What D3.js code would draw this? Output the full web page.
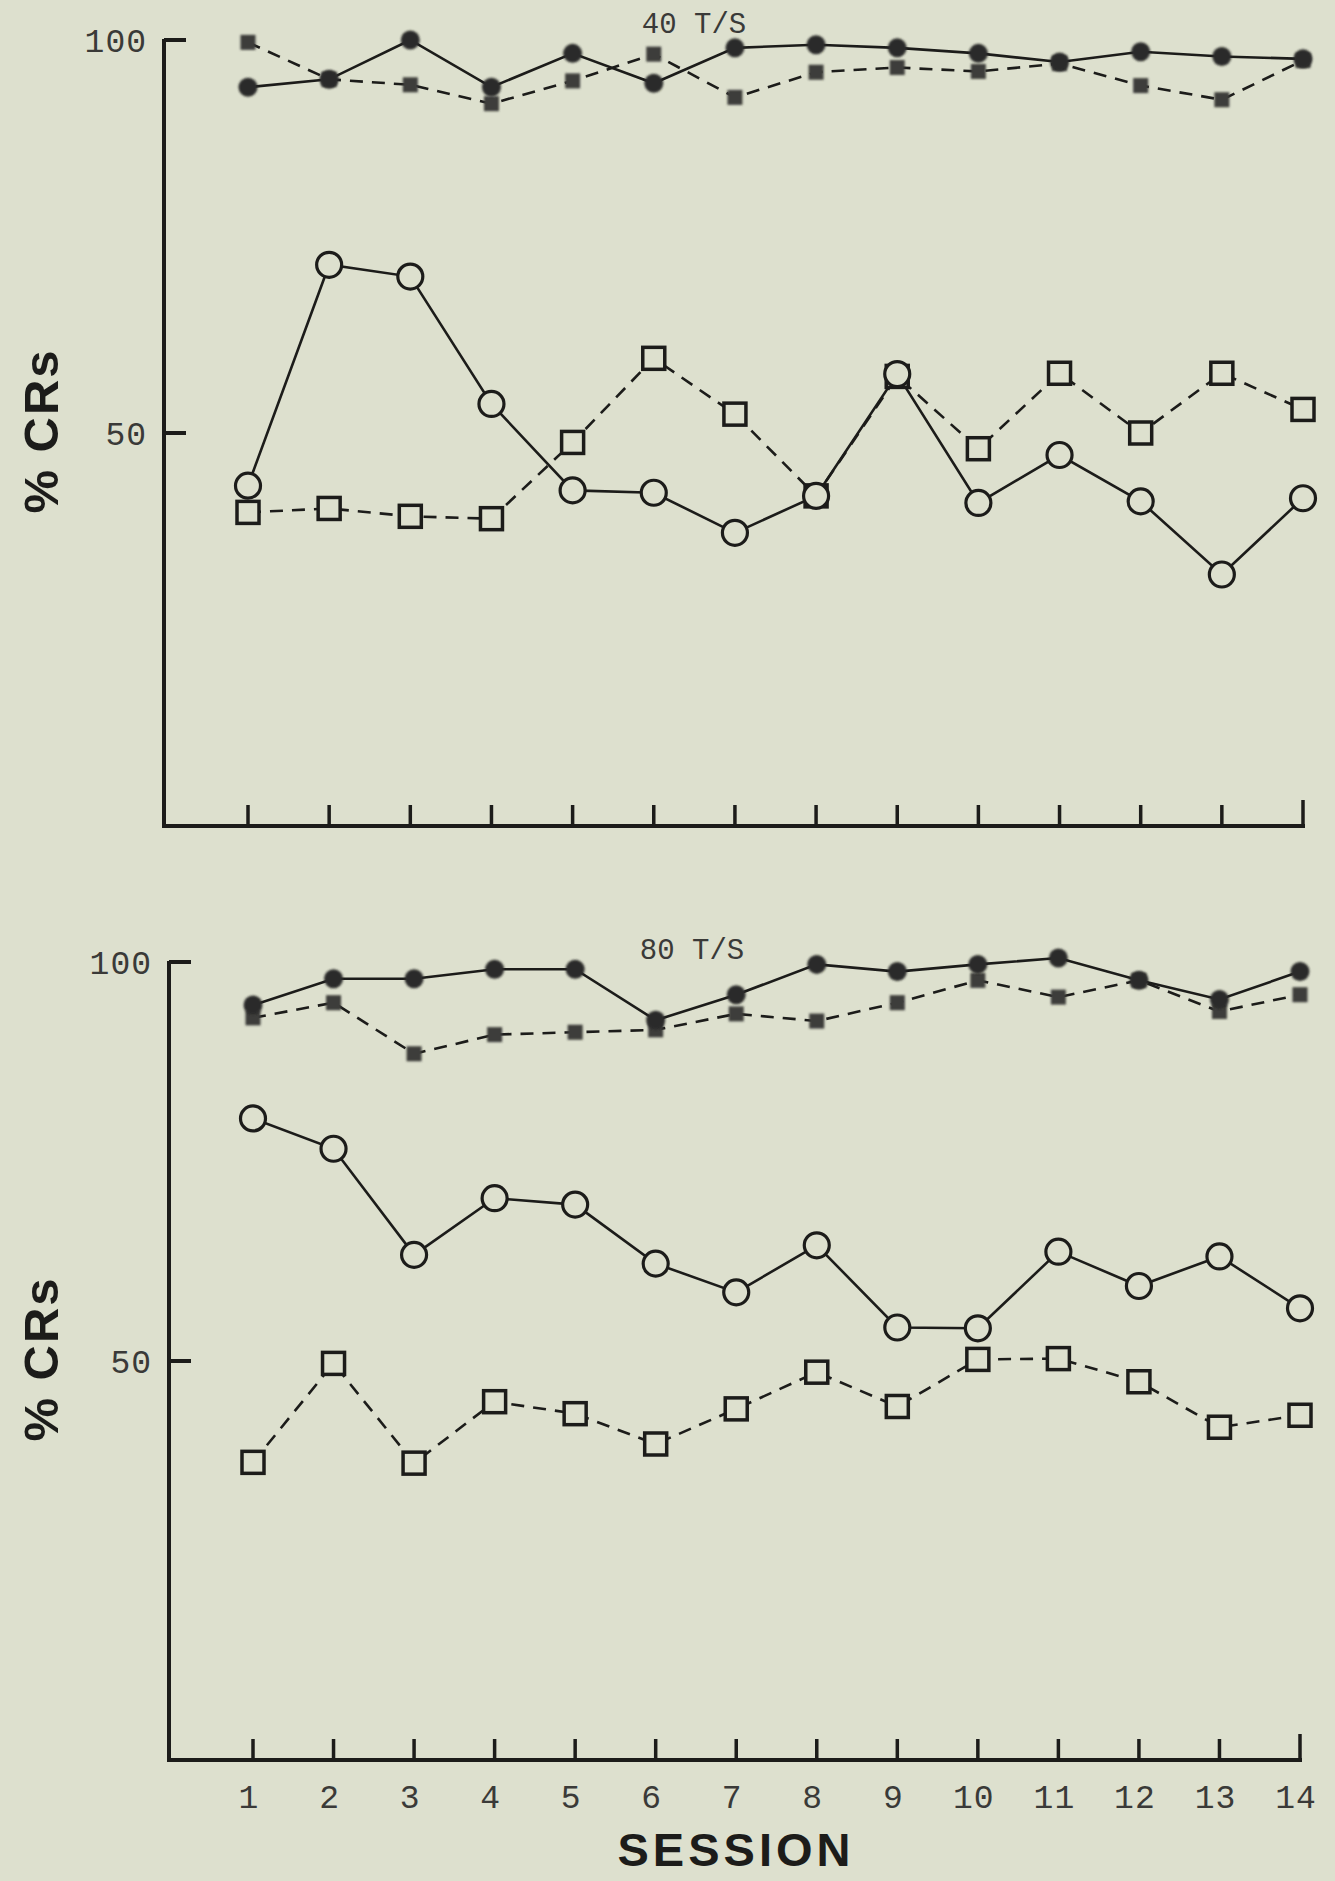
<!DOCTYPE html>
<html><head><meta charset="utf-8">
<script src="https://cdn.jsdelivr.net/npm/d3@7"></script>
<style>html,body{margin:0;padding:0;background:#dde0ce;}svg{display:block;}</style>
</head><body>
<script>
const sessions = [1,2,3,4,5,6,7,8,9,10,11,12,13,14];
const yTicks = [50, 100];
const panelTitles = ["40 T/S", "80 T/S"];

// 40 T/S panel
const top_filledCircle = [94,95,100,94,98.3,94.5,99,99.4,99,98.3,97.2,98.5,97.9,97.6];
const top_filledSquare = [99.7,95,94.3,91.9,94.8,98.2,92.7,95.9,96.5,96,97,94.2,92.4,97.4];
const top_openCircle   = [43.3,71.4,69.9,53.7,42.7,42.4,37.3,42,57.5,41.1,47.2,41.3,32,41.7];
const top_openSquare   = [39.9,40.4,39.4,39.1,48.8,59.5,52.4,42,57.2,48,57.6,50,57.6,53];

// 80 T/S panel
const bot_filledCircle = [94.6,97.9,97.9,99.1,99.1,92.7,95.9,99.7,98.8,99.7,100.5,97.7,95.3,98.8];
const bot_filledSquare = [93,94.9,88.5,90.9,91.2,91.5,93.5,92.6,94.9,97.7,95.6,97.7,93.8,95.9];
const bot_openCircle   = [80.4,76.6,63.3,70.4,69.6,62.2,58.6,64.5,54.2,54.1,63.7,59.4,63.1,56.6];
const bot_openSquare   = [37.3,49.7,37.2,44.9,43.4,39.6,44,48.6,44.3,50.2,50.3,47.4,41.7,43.2];

const W = 1335, H = 1881;
const INK = "#1c1c1a";
const BG = "#dde0ce";
const svg = d3.select("body").append("svg").attr("width", W).attr("height", H)
  .style("background", BG);

const defs = svg.append("defs");
defs.append("filter").attr("id", "soft").attr("x", "-50%").attr("y", "-50%").attr("width", "200%").attr("height", "200%")
  .append("feGaussianBlur").attr("stdDeviation", 0.9);

const panels = [
  {title: panelTitles[0], axisX: 164, x0: 248, x1: 1303, yTop: 40, yBase: 826, titleX: 694, titleY: 33,
   series: [
     {data: top_filledSquare, dash: "13,9", marker: "fsq"},
     {data: top_filledCircle, dash: null, marker: "fci"},
     {data: top_openSquare, dash: "13,9", marker: "osq"},
     {data: top_openCircle, dash: null, marker: "oci"}]},
  {title: panelTitles[1], axisX: 169, x0: 253, x1: 1300, yTop: 962, yBase: 1760, titleX: 692, titleY: 959,
   series: [
     {data: bot_filledSquare, dash: "13,9", marker: "fsq"},
     {data: bot_filledCircle, dash: null, marker: "fci"},
     {data: bot_openSquare, dash: "13,9", marker: "osq"},
     {data: bot_openCircle, dash: null, marker: "oci"}]}
];

panels.forEach((p, pi) => {
  const x = d3.scaleLinear().domain([1,14]).range([p.x0, p.x1]);
  const y = d3.scaleLinear().domain([0,100]).range([p.yBase, p.yTop]);
  const g = svg.append("g");

  // y axis line
  g.append("line").attr("x1", p.axisX).attr("x2", p.axisX)
    .attr("y1", y(100) - 1).attr("y2", p.yBase + 1.5)
    .attr("stroke", INK).attr("stroke-width", 4);
  // y ticks (to the right)
  yTicks.forEach(t => {
    g.append("line").attr("x1", p.axisX).attr("x2", p.axisX + 22)
      .attr("y1", y(t)).attr("y2", y(t)).attr("stroke", INK).attr("stroke-width", 4);
    g.append("text").attr("x", p.axisX - 17).attr("y", y(t) + 12)
      .attr("text-anchor", "end").attr("font-family", "Liberation Mono, monospace")
      .attr("font-size", 33).attr("letter-spacing", 1).attr("fill", "#3a3a38").text(t);
  });
  // x axis
  g.append("line").attr("x1", p.axisX - 2).attr("x2", x(14) + 2)
    .attr("y1", p.yBase).attr("y2", p.yBase).attr("stroke", INK).attr("stroke-width", 4);
  sessions.forEach(s => {
    g.append("line").attr("x1", x(s)).attr("x2", x(s))
      .attr("y1", p.yBase).attr("y2", p.yBase - (s === 14 ? 26 : 21))
      .attr("stroke", INK).attr("stroke-width", 3.5);
  });

  // title
  g.append("text").attr("x", p.titleX).attr("y", p.titleY).attr("text-anchor", "middle")
    .attr("font-family", "Liberation Mono, monospace").attr("font-size", 29)
    .attr("fill", "#3a3a38").text(p.title);

  // % CRs label
  const cy = y(50) - 2;
  g.append("text").attr("transform", `translate(58,${cy}) rotate(-90)`)
    .attr("text-anchor", "middle").attr("font-family", "Liberation Sans, Arial, sans-serif")
    .attr("font-weight", "bold").attr("font-size", 49).attr("letter-spacing", 2)
    .attr("fill", INK).text("% CRs");

  const line = d3.line().x((d,i) => x(sessions[i])).y(d => y(d));
  p.series.forEach(s => {
    g.append("path").attr("d", line(s.data)).attr("fill", "none")
      .attr("stroke", INK).attr("stroke-width", 2.6)
      .attr("stroke-dasharray", s.dash);
  });
  p.series.forEach(s => {
    const mg = g.append("g");
    s.data.forEach((v, i) => {
      const cx = x(sessions[i]), cyy = y(v);
      if (s.marker === "fci") {
        mg.append("circle").attr("cx", cx).attr("cy", cyy).attr("r", 9.5)
          .attr("fill", "#2b2b29").attr("filter", "url(#soft)");
      } else if (s.marker === "fsq") {
        mg.append("rect").attr("x", cx - 7.5).attr("y", cyy - 7.5).attr("width", 15).attr("height", 15)
          .attr("fill", "#3d3d3a").attr("filter", "url(#soft)");
      } else if (s.marker === "oci") {
        mg.append("circle").attr("cx", cx).attr("cy", cyy).attr("r", 12.5)
          .attr("fill", BG).attr("stroke", INK).attr("stroke-width", 3.2);
      } else if (s.marker === "osq") {
        mg.append("rect").attr("x", cx - 11).attr("y", cyy - 11).attr("width", 22).attr("height", 22)
          .attr("fill", BG).attr("stroke", INK).attr("stroke-width", 3.5);
      }
    });
  });

  if (pi === 1) {
    sessions.forEach(s => {
      g.append("text").attr("x", x(s) - 4).attr("y", p.yBase + 48).attr("text-anchor", "middle")
        .attr("font-family", "Liberation Mono, monospace").attr("font-size", 33)
        .attr("letter-spacing", 1).attr("fill", "#3a3a38").text(s);
    });
  }
});

svg.append("text").attr("x", 736).attr("y", 1866).attr("text-anchor", "middle")
  .attr("font-family", "Liberation Sans, Arial, sans-serif").attr("font-weight", "bold")
  .attr("font-size", 47).attr("letter-spacing", 4).attr("fill", INK).text("SESSION");
</script>
</body></html>
